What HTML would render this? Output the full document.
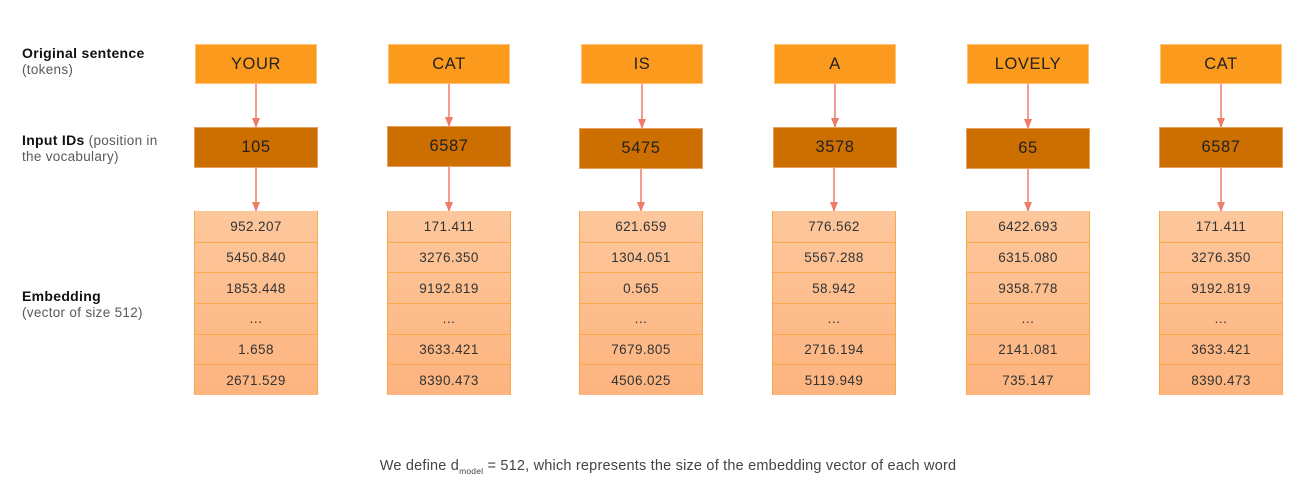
<!DOCTYPE html>
<html><head><meta charset="utf-8"><style>
body{margin:0;width:1311px;height:493px;background:#fff;position:relative;font-family:"Liberation Sans",sans-serif;color:#3a3a3a;overflow:hidden}
.a{position:absolute}
.lbl{position:absolute;left:22px;font-size:13.5px;line-height:16px;color:#595959;letter-spacing:0.3px}
.lbl b{color:#111;font-size:14px}
.tok{position:absolute;background:#fb9a1c;border:1px solid #fcc27a;box-sizing:border-box;display:flex;align-items:center;justify-content:center;font-size:16.5px;color:#222;letter-spacing:0.6px}
.id{position:absolute;background:#cd6e00;border:1px solid #e6a060;box-sizing:border-box;display:flex;align-items:center;justify-content:center;font-size:16.5px;color:#222;letter-spacing:0.6px}
.emb{position:absolute;top:211px;width:124px;height:184px;border-left:1px solid #f9a84a;border-right:1px solid #f9a84a;box-sizing:border-box;background:linear-gradient(#fdc79c,#fdb47f)}
.emb div{height:30.67px;border-top:1px solid #f9a84a;box-sizing:border-box;display:flex;align-items:center;justify-content:center;font-size:13.5px;color:#333;letter-spacing:0.4px}
.emb div:first-child{border-top:none}
</style></head><body>
<div class="lbl" style="top:45px"><b>Original sentence</b><br>(tokens)</div>
<div class="lbl" style="top:132px"><b>Input IDs</b> (position in<br>the vocabulary)</div>
<div class="lbl" style="top:288px"><b>Embedding</b><br>(vector of size 512)</div>

<svg class="a" style="left:0;top:0" width="1311" height="493">
<defs><marker id="m" markerWidth="10" markerHeight="8" refX="9" refY="4" orient="auto" markerUnits="userSpaceOnUse"><path d="M0,0 L10,4 L0,8z" fill="#ef7c6a"/></marker></defs>
<g stroke="#ef7c6a" stroke-width="1.5" marker-end="url(#m)">
<line x1="256" y1="84" x2="256" y2="127"/><line x1="256" y1="168" x2="256" y2="211"/>
<line x1="449" y1="84" x2="449" y2="126"/><line x1="449" y1="167" x2="449" y2="211"/>
<line x1="642" y1="84" x2="642" y2="128"/><line x1="641" y1="169" x2="641" y2="211"/>
<line x1="835" y1="84" x2="835" y2="127"/><line x1="834" y1="168" x2="834" y2="211"/>
<line x1="1028" y1="84" x2="1028" y2="128"/><line x1="1028" y1="169" x2="1028" y2="211"/>
<line x1="1221" y1="84" x2="1221" y2="127"/><line x1="1221" y1="168" x2="1221" y2="211"/>
</g></svg>

<div class="tok" style="left:195px;top:44px;width:122px;height:40px">YOUR</div>
<div class="tok" style="left:388px;top:44px;width:122px;height:40px">CAT</div>
<div class="tok" style="left:581px;top:44px;width:122px;height:40px">IS</div>
<div class="tok" style="left:774px;top:44px;width:122px;height:40px">A</div>
<div class="tok" style="left:967px;top:44px;width:122px;height:40px">LOVELY</div>
<div class="tok" style="left:1160px;top:44px;width:122px;height:40px">CAT</div>

<div class="id" style="left:194px;top:127px;width:124px;height:41px">105</div>
<div class="id" style="left:387px;top:126px;width:124px;height:41px">6587</div>
<div class="id" style="left:579px;top:128px;width:124px;height:41px">5475</div>
<div class="id" style="left:773px;top:127px;width:124px;height:41px">3578</div>
<div class="id" style="left:966px;top:128px;width:124px;height:41px">65</div>
<div class="id" style="left:1159px;top:127px;width:124px;height:41px">6587</div>

<div class="emb" style="left:194px"><div>952.207</div><div>5450.840</div><div>1853.448</div><div>…</div><div>1.658</div><div>2671.529</div></div>
<div class="emb" style="left:387px"><div>171.411</div><div>3276.350</div><div>9192.819</div><div>…</div><div>3633.421</div><div>8390.473</div></div>
<div class="emb" style="left:579px"><div>621.659</div><div>1304.051</div><div>0.565</div><div>…</div><div>7679.805</div><div>4506.025</div></div>
<div class="emb" style="left:772px"><div>776.562</div><div>5567.288</div><div>58.942</div><div>…</div><div>2716.194</div><div>5119.949</div></div>
<div class="emb" style="left:966px"><div>6422.693</div><div>6315.080</div><div>9358.778</div><div>…</div><div>2141.081</div><div>735.147</div></div>
<div class="emb" style="left:1159px"><div>171.411</div><div>3276.350</div><div>9192.819</div><div>…</div><div>3633.421</div><div>8390.473</div></div>

<div class="a" style="left:379px;width:578px;top:458px;text-align:center;font-size:14.5px;color:#444;letter-spacing:0.2px;white-space:nowrap">We define d<sub style="font-size:8.5px">model</sub> = 512, which represents the size of the embedding vector of each word</div>
</body></html>
